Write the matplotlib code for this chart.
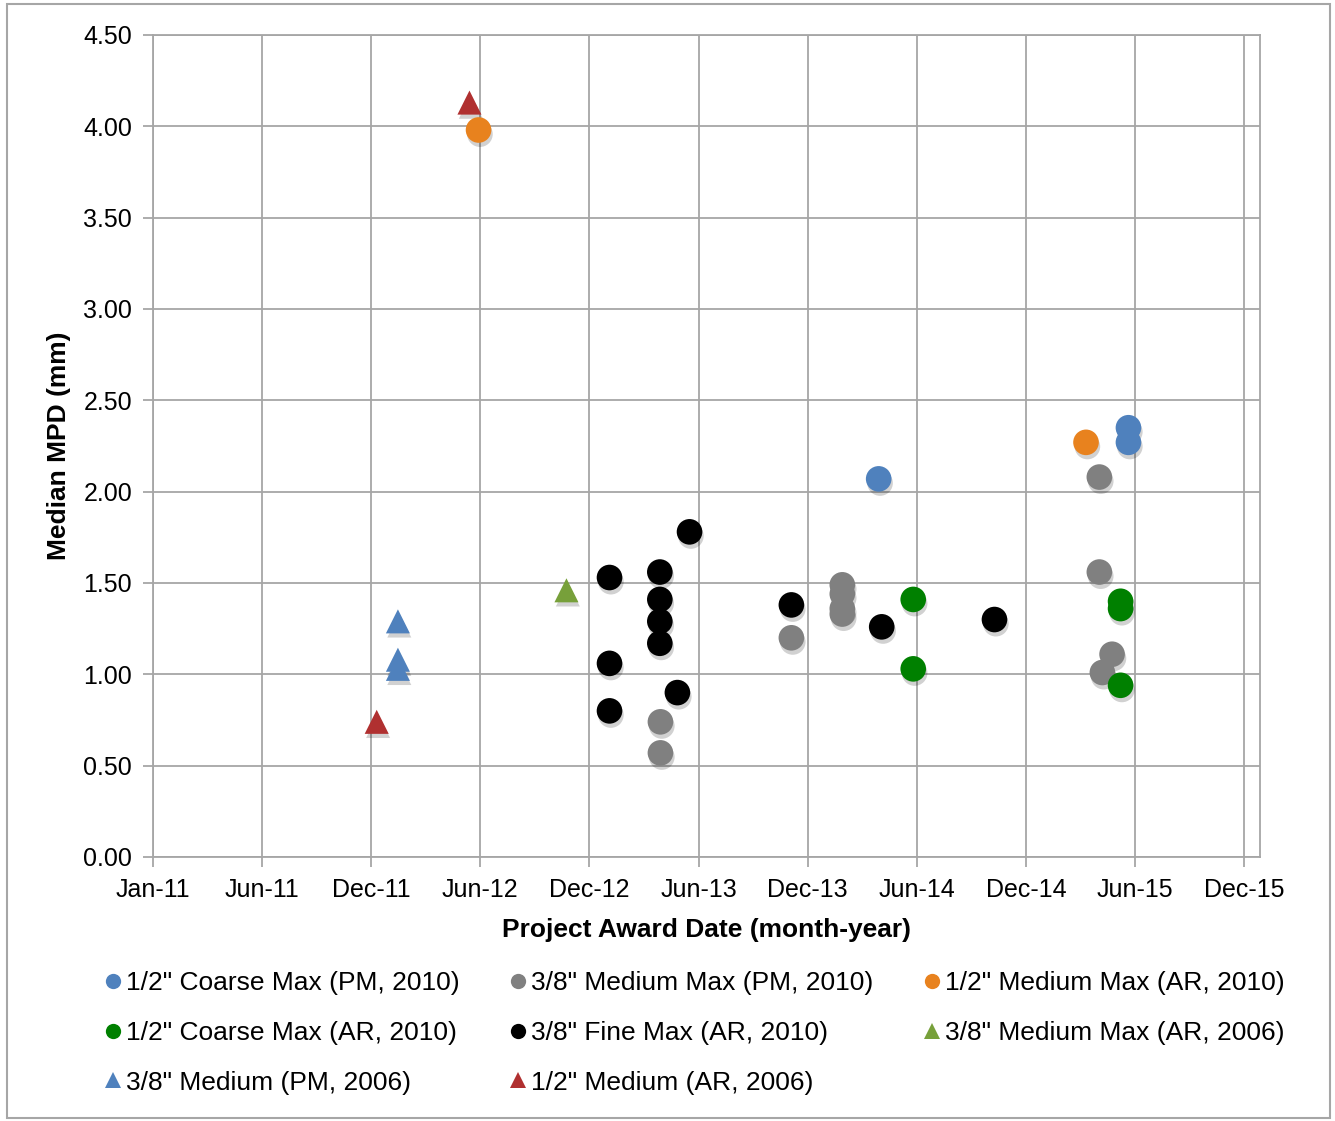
import numpy as np
import pandas as pd
import matplotlib
matplotlib.use("Agg")
import matplotlib.pyplot as plt
import matplotlib.dates as mdates
import matplotlib.patheffects as pe
from matplotlib.lines import Line2D
from matplotlib.patches import Rectangle

plt.rcParams['font.family'] = ['Liberation Sans', 'DejaVu Sans']

# datos (fecha de adjudicacion, MPD mediana en mm)
coarse_pm10_dates = ['2014-04-12', '2015-05-29', '2015-05-29']
coarse_pm10_mpd = [2.07, 2.35, 2.27]

medium_pm10_dates = ['2013-04-17', '2013-04-17', '2013-11-19', '2014-02-11', '2014-02-11',
                     '2014-02-11', '2014-02-11', '2015-04-11', '2015-04-11', '2015-05-02',
                     '2015-04-16']
medium_pm10_mpd = [0.74, 0.57, 1.20, 1.49, 1.44, 1.36, 1.33, 2.08, 1.56, 1.11, 1.01]

medium_ar10_dates = ['2012-06-21', '2015-03-20']
medium_ar10_mpd = [3.98, 2.27]

coarse_ar10_dates = ['2014-06-08', '2014-06-08', '2015-05-16', '2015-05-16', '2015-05-16']
coarse_ar10_mpd = [1.41, 1.03, 1.40, 1.36, 0.94]

fine_ar10_dates = ['2013-01-23', '2013-01-23', '2013-01-23', '2013-04-16', '2013-04-16',
                   '2013-04-16', '2013-04-16', '2013-05-15', '2013-06-04', '2013-11-19',
                   '2014-04-17', '2014-10-20']
fine_ar10_mpd = [1.53, 1.06, 0.80, 1.56, 1.41, 1.29, 1.17, 0.90, 1.78, 1.38, 1.26, 1.30]

medmax_ar06_dates = ['2012-11-13']
medmax_ar06_mpd = [1.46]

medium_pm06_dates = ['2012-02-09', '2012-02-09', '2012-02-09']
medium_pm06_mpd = [1.29, 1.08, 1.03]

half_ar06_dates = ['2012-01-05', '2012-06-06']
half_ar06_mpd = [0.74, 4.13]

BLUE = '#4F81BD'
GRAY = '#808080'
ORANGE = '#E8821E'
GREEN = '#008000'
BLACK = '#000000'
OLIVE = '#77A03A'
RED = '#B03030'

# (etiqueta, fechas, valores, color, marcador)
triangles = [
    ('3/8" Medium Max (AR, 2006)', medmax_ar06_dates, medmax_ar06_mpd, OLIVE, '^'),
    ('3/8" Medium (PM, 2006)', medium_pm06_dates, medium_pm06_mpd, BLUE, '^'),
    ('1/2" Medium (AR, 2006)', half_ar06_dates, half_ar06_mpd, RED, '^'),
]
circles = [
    ('1/2" Coarse Max (PM, 2010)', coarse_pm10_dates, coarse_pm10_mpd, BLUE, 'o'),
    ('3/8" Medium Max (PM, 2010)', medium_pm10_dates, medium_pm10_mpd, GRAY, 'o'),
    ('1/2" Medium Max (AR, 2010)', medium_ar10_dates, medium_ar10_mpd, ORANGE, 'o'),
    ('1/2" Coarse Max (AR, 2010)', coarse_ar10_dates, coarse_ar10_mpd, GREEN, 'o'),
    ('3/8" Fine Max (AR, 2010)', fine_ar10_dates, fine_ar10_mpd, BLACK, 'o'),
]

fig = plt.figure(figsize=(13.35, 11.21), dpi=100)
ax = fig.add_axes([153 / 1335, 1 - 857 / 1121, (1260 - 153) / 1335, (857 - 35) / 1121])

shadow = [pe.SimplePatchShadow(offset=(1, -3), shadow_rgbFace='k', alpha=0.18), pe.Normal()]

handles = {}
for label, dates, vals, color, marker in triangles + circles:
    x = mdates.date2num(pd.to_datetime(dates))
    size = 340 if marker == 'o' else 300
    sc = ax.scatter(x, vals, s=size, c=color, marker=marker, edgecolors='none', zorder=3)
    sc.set_path_effects(shadow)
    handles[label] = Line2D([], [], linestyle='none', marker=marker, color=color,
                            markersize=11 if marker == 'o' else 12, markeredgewidth=0)

start = pd.Timestamp('2011-01-01')
tick_dates = [start + pd.Timedelta(days=180 * i) for i in range(11)]
ax.set_xticks(mdates.date2num(tick_dates))
ax.xaxis.set_major_formatter(mdates.DateFormatter('%b-%y'))
ax.set_xlim(mdates.date2num(start), mdates.date2num(pd.Timestamp('2016-01-01')))

ax.set_ylim(0, 4.5)
ax.set_yticks(np.arange(0, 4.51, 0.5))
ax.yaxis.set_major_formatter(matplotlib.ticker.FormatStrFormatter('%.2f'))

ax.grid(True, color='#A6A6A6', linewidth=1.3)
ax.set_axisbelow(True)
for sp in ax.spines.values():
    sp.set_color('#A6A6A6')
    sp.set_linewidth(1.3)
ax.tick_params(axis='both', labelsize=18, color='#A6A6A6', length=7, width=1.3, pad=8)

ax.set_xlabel('Project Award Date (month-year)', fontsize=19, fontweight='bold', labelpad=12)
ax.set_ylabel('Median MPD (mm)', fontsize=19, fontweight='bold', labelpad=9)

order = ['1/2" Coarse Max (PM, 2010)', '1/2" Coarse Max (AR, 2010)', '3/8" Medium (PM, 2006)',
         '3/8" Medium Max (PM, 2010)', '3/8" Fine Max (AR, 2010)', '1/2" Medium (AR, 2006)',
         '1/2" Medium Max (AR, 2010)', '3/8" Medium Max (AR, 2006)']
fig.legend([handles[k] for k in order], order, ncol=3, loc='upper left',
           bbox_to_anchor=(100 / 1335, 1 - 971 / 1121), frameon=False, fontsize=19,
           handletextpad=0.0, handlelength=1.0, columnspacing=1.7, labelspacing=0.98,
           borderaxespad=0, borderpad=0)

fig.patches.append(Rectangle((7 / 1335, 3 / 1121), 1323 / 1335, 1114 / 1121,
                             transform=fig.transFigure, fill=False,
                             edgecolor='#A6A6A6', linewidth=1.5))

fig.savefig('out.png', dpi=100)
